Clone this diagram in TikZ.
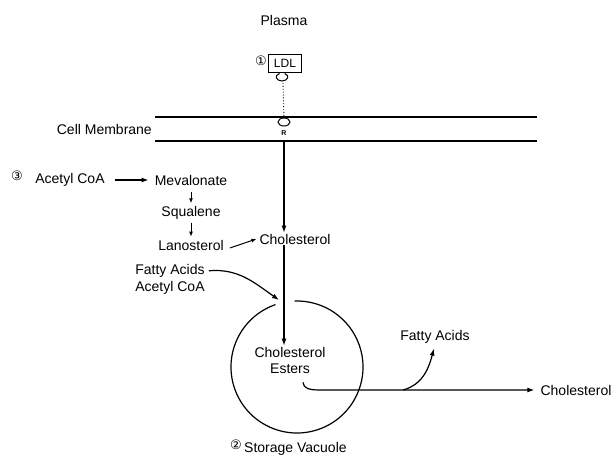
\documentclass[tikz,border=0pt]{standalone}
\usepackage{fontspec}
\setmainfont{Liberation Sans}
\newfontfamily\circfont{DejaVu Sans}
\usetikzlibrary{arrows.meta,positioning,shapes.geometric}

\tikzset{
  lbl/.style={font=\fontsize{14}{16}\selectfont, inner sep=1pt},
  num/.style={font=\circfont\fontsize{13}{14}\selectfont, inner sep=0pt},
  flow/.style={-{Latex[length=7pt,width=5pt]}, line width=1.2pt},
  smallflow/.style={-{Latex[length=5pt,width=4pt]}, line width=1pt},
  membrane/.style={line width=1.2pt}
}

\begin{document}
\begin{tikzpicture}[x=1pt,y=1pt]
\useasboundingbox (0,0) rectangle (614,-455);

% plasma side
\node[lbl] (plasma) at (284,-20) {Plasma};
\node[draw, lbl, font=\fontsize{12}{14}\selectfont, line width=1pt,
      minimum width=33pt, minimum height=18pt] (ldl) at (285,-63) {LDL};
\node[num, left=1pt of ldl, yshift=2pt] (n1) {①};
\draw[line width=1pt] (279,-72) -- (279,-74)
  .. controls (274,-75) and (276,-81) .. (282,-81)
  .. controls (288,-81) and (290,-75) .. (285,-74) -- (285,-72);
\coordinate (knob) at (283,-83);

% membrane
\coordinate (mtl) at (155,-117);
\coordinate (mtr) at (537,-117);
\coordinate (mbl) at (155,-141);
\coordinate (mbr) at (537,-141);
\draw[membrane] (mtl) -- (mtr);
\draw[membrane] (mbl) -- (mbr);
\node[lbl, anchor=east] (cellmem) at (153,-129) {Cell Membrane};
\node[draw, ellipse, line width=1pt, minimum width=12pt, minimum height=8pt,
      inner sep=0pt, fill=white] (rec) at (284,-122) {};
\node[font=\fontsize{7}{8}\selectfont\bfseries, inner sep=0pt] (rlbl) at (284,-133) {R};
\draw[dotted, line width=0.9pt] (knob) -- (rec.north);

% synthesis
\node[num] (n3) at (17,-176) {③};
\node[lbl] (acoa) at (70,-180) {Acetyl CoA};
\node[lbl] (meva) at (191,-180) {Mevalonate};
\node[lbl, on grid, below=33pt of meva] (squa) {Squalene};
\node[lbl, on grid, below=32pt of squa] (lano) {Lanosterol};
\node[lbl] (chol) at (295,-239) {Cholesterol};

\draw[flow, shorten <=9pt, shorten >=5pt] (acoa) -- (meva);
\draw[smallflow, shorten <=6pt, shorten >=2pt] (meva) -- (squa);
\draw[smallflow, shorten <=2pt, shorten >=2pt] (squa) -- (lano);
\draw[smallflow] ([shift={(5pt,-3pt)}]lano.east) -- ([xshift=-2pt]chol.west);

% uptake
\draw[flow] (rec |- mbl) -- (rec |- chol.north);

% vacuole
\node[circle, minimum size=132pt, inner sep=0pt, outer sep=0pt] (vac) at (297,-367) {};
\draw[line width=1.2pt] (vac.109) arc[start angle=109, end angle=452, radius=66pt];
\node[lbl, align=center] (esters) at (290,-360) {Cholesterol\\Esters};
\draw[flow] (rec |- chol.south) -- (rec |- esters.north);

\node[lbl, align=left, font=\fontsize{14}{17}\selectfont] (fa1) at (170,-279) {Fatty Acids\\Acetyl CoA};
\coordinate (fatip) at (279,-300);
\draw[flow] ([shift={(3pt,-8pt)}]fa1.north east) to[out=5,in=145] (fatip);

\node[lbl, anchor=west] (store) at (243,-449) {Storage Vacuole};
\node[num, left=1pt of store, yshift=4pt] (n2) {②};

% release
\node[lbl] (cholout) at (576,-390) {Cholesterol};
\node[lbl] (fa2) at (435,-337) {Fatty Acids};
\coordinate (bend) at (318,-390);
\coordinate (branch) at (403,-390);
\draw[flow, shorten >=5pt] ([shift={(13pt,-8pt)}]esters.south) to[out=-90,in=180] (bend) -- (cholout.west);
\draw[flow, shorten >=4pt] (branch) to[out=15,in=-105] (fa2.south);
\end{tikzpicture}
\end{document}
